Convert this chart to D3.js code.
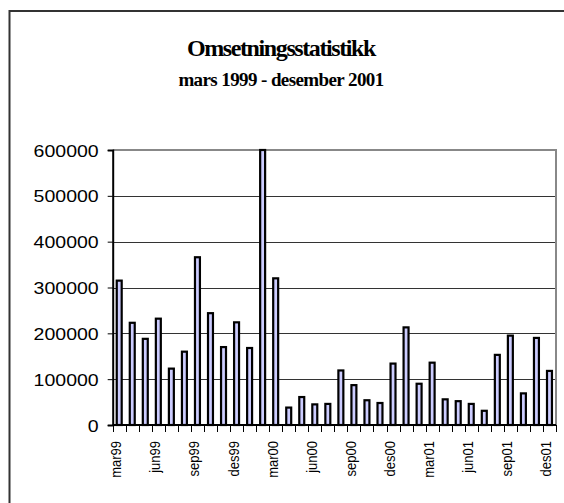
<!DOCTYPE html>
<html>
<head>
<meta charset="utf-8">
<script src="https://cdn.jsdelivr.net/npm/d3@7"></script>
<style>
  body { margin: 0; background: #fff; }
</style>
</head>
<body>
<svg id="chart"></svg>
<script>
// monthly turnover, mar99 - des01
let months = [
  'mar99', 'apr99', 'mai99', 'jun99', 'jul99', 'aug99', 'sep99', 'okt99', 'nov99', 'des99',
  'jan00', 'feb00', 'mar00', 'apr00', 'mai00', 'jun00', 'jul00', 'aug00', 'sep00', 'okt00', 'nov00', 'des00',
  'jan01', 'feb01', 'mar01', 'apr01', 'mai01', 'jun01', 'jul01', 'aug01', 'sep01', 'okt01', 'nov01', 'des01'
]
let values = [
  315000, 223000, 188000, 232000, 123000, 160000, 366000, 244000, 170000, 224000,
  168000, 600000, 320000, 38000, 61000, 45000, 46000, 119000, 87000, 54000, 48000, 134000,
  213000, 90000, 136000, 56000, 52000, 46000, 31000, 153000, 195000, 69000, 190000, 118000
]
let yTicks = [0, 100000, 200000, 300000, 400000, 500000, 600000]
let shownLabels = ['mar99', 'jun99', 'sep99', 'des99', 'mar00', 'jun00', 'sep00', 'des00', 'mar01', 'jun01', 'sep01', 'des01']

let width = 564
let height = 503
let svg = d3.select('#chart')
  .attr('width', width)
  .attr('height', height)

// chart frame (only top and left show in the crop)
svg.append('path')
  .attr('d', `M9.5,${height} V11 H${width}`)
  .attr('fill', 'none')
  .attr('stroke', '#333')
  .attr('stroke-width', 2)

svg.append('text')
  .attr('x', 281)
  .attr('y', 56)
  .attr('text-anchor', 'middle')
  .attr('font-family', 'Liberation Serif')
  .attr('font-weight', 'bold')
  .attr('font-size', 24)
  .attr('letter-spacing', -1.4)
  .text('Omsetningsstatistikk')

svg.append('text')
  .attr('x', 281)
  .attr('y', 86)
  .attr('text-anchor', 'middle')
  .attr('font-family', 'Liberation Serif')
  .attr('font-weight', 'bold')
  .attr('font-size', 19)
  .attr('letter-spacing', -0.6)
  .text('mars 1999 - desember 2001')

let plotLeft = 112.7
let plotRight = 556
let plotTop = 150
let plotBottom = 425

let x = d3.scaleBand()
  .domain(months)
  .range([plotLeft, plotRight])
  .padding(0)
let y = d3.scaleLinear()
  .domain([0, 600000])
  .range([plotBottom, plotTop])

// gridlines
svg.append('g')
  .selectAll('line')
  .data(yTicks.filter((d) => d > 0 && d < 600000))
  .enter()
  .append('line')
  .attr('x1', plotLeft)
  .attr('x2', plotRight)
  .attr('y1', (d) => Math.round(y(d)) + 0.5)
  .attr('y2', (d) => Math.round(y(d)) + 0.5)
  .attr('stroke', '#333')
  .attr('stroke-width', 1)

// plot area border, top and right
svg.append('path')
  .attr('d', `M${plotLeft},${plotTop} H${plotRight} V${plotBottom}`)
  .attr('fill', 'none')
  .attr('stroke', '#888')
  .attr('stroke-width', 2)

// bars
let bw = x.bandwidth()
svg.append('g')
  .selectAll('rect')
  .data(values)
  .enter()
  .append('rect')
  .attr('x', (d, i) => x(months[i]) + bw * 0.31)
  .attr('width', bw * 0.38)
  .attr('y', (d) => y(d))
  .attr('height', (d) => plotBottom - y(d))
  .attr('fill', '#ccccff')
  .attr('stroke', '#000')
  .attr('stroke-width', 2.2)

// y axis
let yAxis = d3.axisLeft(y)
  .tickValues(yTicks)
  .tickSize(5)
  .tickPadding(0)
  .tickFormat(d3.format('d'))
let yg = svg.append('g')
  .attr('transform', `translate(${plotLeft},0)`)
  .call(yAxis)
yg.select('.domain').attr('stroke', '#000').attr('stroke-width', 2)
yg.selectAll('.tick line').attr('stroke', '#000')
yg.selectAll('.tick text')
  .attr('x', null)
  .attr('dy', null)
  .attr('text-anchor', 'end')
  .attr('font-family', 'Liberation Sans')
  .attr('font-size', 16)
  .attr('fill', '#000')
  .attr('transform', 'translate(-14,6) scale(1.22,1)')

// x axis: a tick at every band edge, labels every third month
let xAxis = d3.axisBottom(x)
  .tickSize(0)
  .tickFormat((d) => shownLabels.includes(d) ? d : '')
let xg = svg.append('g')
  .attr('transform', `translate(0,${plotBottom})`)
  .call(xAxis)
xg.select('.domain').remove()
xg.selectAll('.tick line').remove()
xg.append('g')
  .selectAll('line')
  .data(months.concat(['end']))
  .enter()
  .append('line')
  .attr('x1', (d, i) => Math.round(plotLeft + i * bw) + 0.5)
  .attr('x2', (d, i) => Math.round(plotLeft + i * bw) + 0.5)
  .attr('y1', 0)
  .attr('y2', 7)
  .attr('stroke', '#000')
xg.append('line')
  .attr('x1', plotLeft)
  .attr('x2', plotRight)
  .attr('stroke', '#000')
  .attr('stroke-width', 2)
xg.selectAll('.tick text')
  .attr('y', null)
  .attr('dy', null)
  .attr('text-anchor', 'end')
  .attr('font-family', 'Liberation Sans')
  .attr('font-size', 14)
  .attr('fill', '#000')
  .attr('transform', 'translate(2,16) rotate(-90) scale(0.93,1)')
</script>
</body>
</html>
